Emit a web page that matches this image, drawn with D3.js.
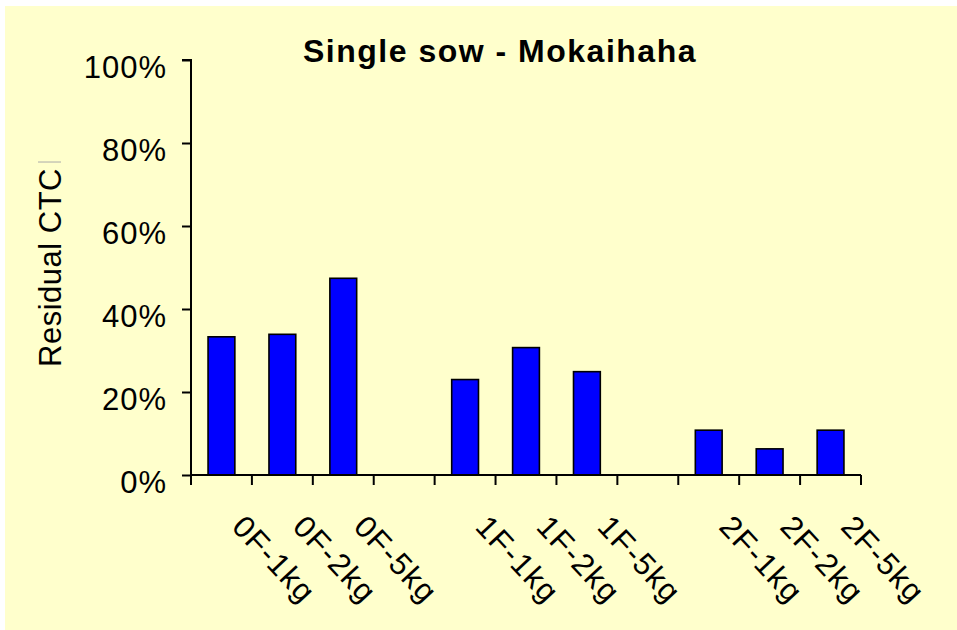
<!DOCTYPE html>
<html>
<head>
<meta charset="utf-8">
<script src="https://cdn.jsdelivr.net/npm/d3@7"></script>
<style>
  body { margin: 0; background: #fff; }
  text { font-family: Arial, "Liberation Sans", sans-serif; fill: #000; }
</style>
</head>
<body>
<svg id="chart" width="957" height="630"></svg>
<script>
// data
const categories = ["0F-1kg", "0F-2kg", "0F-5kg", "", "1F-1kg", "1F-2kg", "1F-5kg", "", "2F-1kg", "2F-2kg", "2F-5kg"];
const values = [33.3, 33.9, 47.4, null, 23.0, 30.7, 24.9, null, 10.8, 6.3, 10.8];
const yTicks = [0, 20, 40, 60, 80, 100];
const title = "Single sow - Mokaihaha";
const yTitle = "Residual CTC";

const width = 957, height = 630;
const margin = { top: 60, right: 96, bottom: 155, left: 191 };

const svg = d3.select("#chart");

// chart area background
svg.append("rect")
  .attr("x", 5).attr("y", 6)
  .attr("width", width - 5).attr("height", height - 6)
  .attr("fill", "#FFFFCC");

const x = d3.scaleBand()
  .domain(d3.range(categories.length))
  .range([margin.left, width - margin.right])
  .padding(0);

const y = d3.scaleLinear()
  .domain([0, 100])
  .range([height - margin.bottom, margin.top]);

const barW = x.bandwidth() * 0.44;

// bars
svg.append("g")
  .selectAll("rect")
  .data(values.map((v, i) => ({ v, i })).filter(d => d.v != null))
  .join("rect")
  .attr("x", d => x(d.i) + (x.bandwidth() - barW) / 2)
  .attr("y", d => y(d.v))
  .attr("width", barW)
  .attr("height", d => y(0) - y(d.v))
  .attr("fill", "#0000FF")
  .attr("stroke", "#000")
  .attr("stroke-width", 1.6);

// y axis
const yAxis = svg.append("g")
  .attr("transform", `translate(${margin.left},0)`)
  .call(d3.axisLeft(y).tickValues(yTicks).tickFormat(d => d + "%").tickSize(9).tickPadding(15));
yAxis.select(".domain").attr("d", `M-9,${y(100)}H0V${y(0) + 10}`);
yAxis.selectAll("line, path").attr("stroke", "#000").attr("stroke-width", 2);
yAxis.selectAll("text")
  .attr("font-size", 31)
  .attr("letter-spacing", 1)
  .attr("dy", "0.85em")
  .attr("y", -9);

// x axis: ticks at category boundaries
const bounds = d3.range(categories.length + 1).map(i => margin.left + i * x.bandwidth());
const xAxis = svg.append("g");
xAxis.append("line")
  .attr("x1", margin.left).attr("x2", width - margin.right)
  .attr("y1", y(0)).attr("y2", y(0))
  .attr("stroke", "#000").attr("stroke-width", 2);
xAxis.selectAll("line.tick")
  .data(bounds)
  .join("line")
  .attr("class", "tick")
  .attr("x1", d => d).attr("x2", d => d)
  .attr("y1", y(0)).attr("y2", y(0) + 10)
  .attr("stroke", "#000").attr("stroke-width", 2);

xAxis.selectAll("text")
  .data(categories.map((c, i) => ({ c, i })).filter(d => d.c))
  .join("text")
  .attr("transform", d => `translate(${x(d.i) + x.bandwidth() / 2 + 9},${y(0) + 53}) rotate(47)`)
  .attr("font-size", 31)
  .attr("letter-spacing", 1.5)
  .text(d => d.c);

// title
svg.append("text")
  .attr("x", 500).attr("y", 62)
  .attr("text-anchor", "middle")
  .attr("font-size", 32)
  .attr("font-weight", "bold")
  .attr("letter-spacing", 1.5)
  .text(title);

// y title
const yLab = svg.append("g")
  .attr("transform", `translate(61,${(y(0) + y(100)) / 2}) rotate(-90)`);
const yText = yLab.append("text")
  .attr("text-anchor", "middle")
  .attr("font-size", 31)
  .attr("letter-spacing", 0.5)
  .text(yTitle);
const half = yText.node().getComputedTextLength() / 2;
yLab.append("line")
  .attr("x1", half + 6).attr("x2", half + 6)
  .attr("y1", -23).attr("y2", 0)
  .attr("stroke", "#aaa").attr("stroke-width", 1);
</script>
</body>
</html>
